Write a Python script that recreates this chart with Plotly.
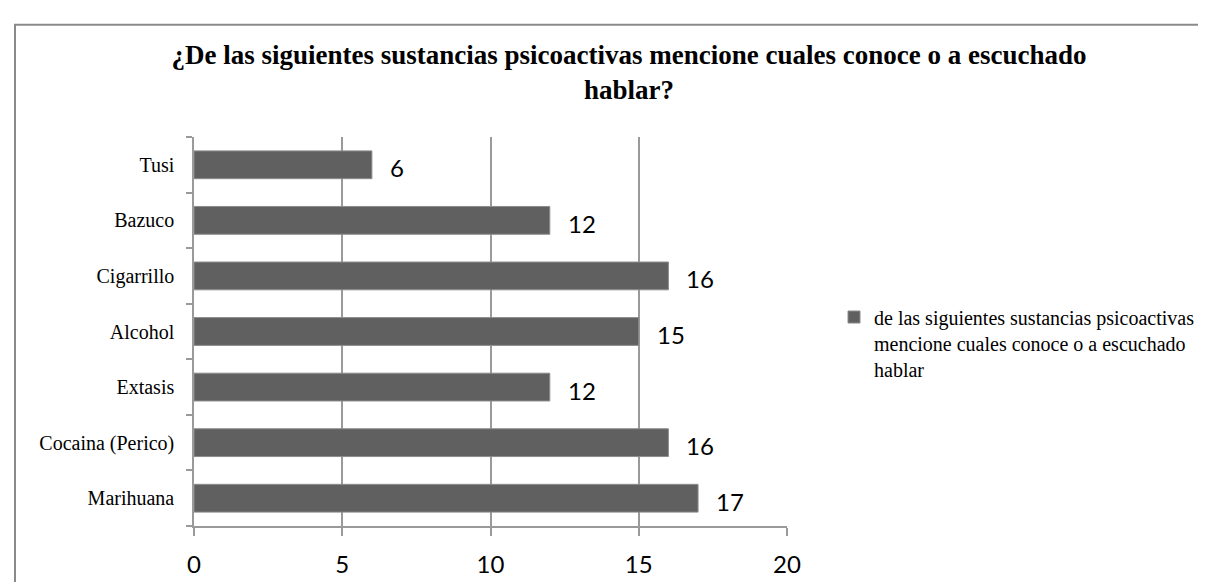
import plotly.graph_objects as go

categories = ["Marihuana", "Cocaina (Perico)", "Extasis", "Alcohol", "Cigarrillo", "Bazuco", "Tusi"]
values = [17, 16, 12, 15, 16, 12, 6]
series_name = "de las siguientes sustancias psicoactivas<br>mencione cuales conoce o a escuchado<br>hablar"
title_text = "¿De las siguientes sustancias psicoactivas mencione cuales conoce o a escuchado<br>hablar?"
x_ticks = [0, 5, 10, 15, 20]

W, H = 1206, 582
L, R, T, B = 186, 779, 129, 524

fig = go.Figure()
fig.add_trace(go.Bar(
    x=values, y=categories, orientation="h", name=series_name,
    marker=dict(color="#606060", line=dict(color="#8c8c8c", width=1)),
    showlegend=True,
))

for c, v in zip(categories, values):
    fig.add_annotation(x=v, y=c, text=str(v), showarrow=False, xanchor="left",
                       xshift=16, yshift=-3, font=dict(family="Lato", size=24, color="#000000"))

pw = R - L
ph = B - T
fig.add_shape(type="rect", xref="paper", yref="paper",
              x0=(7 - L) / pw, x1=(1205 - L) / pw,
              y0=(B - 620) / ph, y1=(B - 15) / ph,
              line=dict(color="#8a8a8a", width=2), fillcolor="rgba(0,0,0,0)", layer="below")

fig.update_layout(
    width=W, height=H,
    margin=dict(l=L, r=W - R, t=T, b=H - B, pad=0),
    paper_bgcolor="white", plot_bgcolor="white",
    bargap=0.5,
    title=dict(text=title_text, x=621 / W, xanchor="center", y=1 - 56 / H, yanchor="top",
               font=dict(family="Liberation Serif", size=27, color="#000000", weight="bold")),
    legend=dict(x=(826 - L) / pw, xanchor="left", y=(B - 292) / ph, yanchor="top",
                valign="top", font=dict(family="Liberation Serif", size=20, color="#000000"),
                bgcolor="rgba(0,0,0,0)", itemwidth=30, tracegroupgap=0),
    xaxis=dict(range=[0, 20], tickvals=x_ticks, ticktext=[str(t) for t in x_ticks],
               showgrid=True, gridcolor="#9a9a9a", gridwidth=1.5,
               showline=True, linecolor="#9a9a9a", linewidth=1.5,
               ticks="outside", ticklen=8, tickcolor="#9a9a9a", tickwidth=1.5,
               ticklabelstandoff=8, zeroline=False,
               tickfont=dict(family="Lato", size=24, color="#000000"), fixedrange=True),
    yaxis=dict(type="category", categoryorder="array", categoryarray=categories,
               showline=True, linecolor="#9a9a9a", linewidth=1.5,
               ticks="outside", ticklen=6, tickcolor="#9a9a9a", tickwidth=1.5,
               tickson="boundaries", showgrid=False, ticklabelstandoff=14,
               tickfont=dict(family="Liberation Serif", size=20, color="#000000"), fixedrange=True),
)

fig.write_html("out.html")
